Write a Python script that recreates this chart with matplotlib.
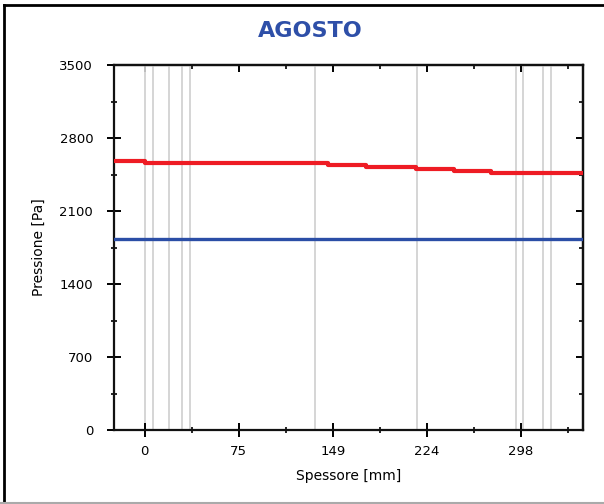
import matplotlib
matplotlib.use("Agg")
import matplotlib.pyplot as plt
from matplotlib.lines import Line2D

# layer boundaries inside the wall [mm]
layer_edges = [0, 6.3, 19.1, 30, 36.3, 135, 215.4, 294.5, 300, 315.7, 321.7]

# saturation pressure profile (stepwise) and vapour pressure
sat_x = [-24.2, 0, 145, 175, 215, 245, 274, 347.2]
sat_p = [2579, 2557, 2538, 2519, 2502, 2483, 2461, 2461]
vap_x = [-24.2, 347.2]
vap_p = [1828, 1828]

xticks = [0, 74.5, 149, 223.5, 298]
xtick_labels = ["0", "75", "149", "224", "298"]
yticks = [0, 700, 1400, 2100, 2800, 3500]
xminor = [37.25, 111.75, 186.25, 260.75, 335.25]
yminor = [350, 1050, 1750, 2450, 3150]

W, H = 604, 504
fig = plt.figure(figsize=(W / 100, H / 100), dpi=100)
ax = fig.add_axes([114 / W, 1 - 430 / H, (583 - 114) / W, (430 - 65) / H])

for x in layer_edges:
    ax.axvline(x, color="#d2d2d2", lw=1.3, zorder=1)

ax.step(sat_x, sat_p, where="post", color="#ee1c24", lw=3.0, zorder=3)
ax.plot(vap_x, vap_p, color="#2b4ea6", lw=2.4, zorder=3)

ax.set_xlim(-24.2, 347.2)
ax.set_ylim(0, 3500)
ax.set_xticks(xticks)
ax.set_xticklabels(xtick_labels)
ax.set_xticks(xminor, minor=True)
ax.set_yticks(yticks)
ax.set_yticks(yminor, minor=True)

for s in ax.spines.values():
    s.set_linewidth(1.6)
    s.set_color("#111111")

ax.tick_params(which="major", direction="inout", length=10, width=1.4,
               labelsize=9.5)
ax.tick_params(which="minor", direction="inout", length=5, width=1.2)
ax.tick_params(axis="y", which="major", pad=10)
ax.tick_params(axis="x", which="major", pad=6)

# inward ticks on the top and right sides
top = ax.secondary_xaxis("top")
top.set_xticks(xticks)
top.set_xticks(xminor, minor=True)
top.tick_params(which="major", direction="in", length=5, width=1.4, labeltop=False)
top.tick_params(which="minor", direction="in", length=3, width=1.2)
right = ax.secondary_yaxis("right")
right.set_yticks(yticks)
right.set_yticks(yminor, minor=True)
right.tick_params(which="major", direction="in", length=5, width=1.4, labelright=False)
right.tick_params(which="minor", direction="in", length=3, width=1.2)
for sec in (top, right):
    for s in sec.spines.values():
        s.set_linewidth(1.6)
        s.set_color("#111111")

ax.set_xlabel("Spessore [mm]", fontsize=10, labelpad=8)
ax.set_ylabel("Pressione [Pa]", fontsize=10, labelpad=10)
fig.text(310 / W, 1 - 31 / H, "AGOSTO", ha="center", va="center",
         fontsize=16, fontweight="bold", color="#2e4fa8")

# page frame
fig.add_artist(Line2D([4 / W, 4 / W], [0, 1 - 5 / H], color="black", lw=2))
fig.add_artist(Line2D([4 / W, 1], [1 - 5 / H, 1 - 5 / H], color="black", lw=2))
fig.add_artist(Line2D([0, 1], [1.5 / H, 1.5 / H], color="#aaaaaa", lw=1.5))

fig.savefig("out.png", dpi=100)
